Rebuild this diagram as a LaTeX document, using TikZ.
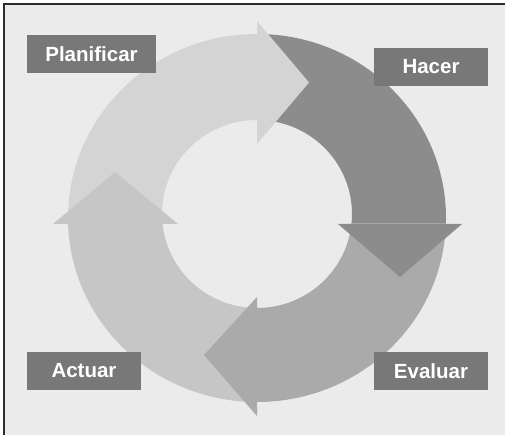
\documentclass[tikz,border=0pt]{standalone}
\usepackage{fontspec}
\usepackage{xcolor}
\usepackage{tikz}
\newfontfamily\labelfont{Liberation Sans}
\definecolor{pagefill}{RGB}{235,235,235}
\definecolor{frameline}{RGB}{45,45,45}
\definecolor{planfill}{RGB}{212,212,212}
\definecolor{hacerfill}{RGB}{140,140,140}
\definecolor{evalfill}{RGB}{170,170,170}
\definecolor{actfill}{RGB}{198,198,198}
\definecolor{labelfill}{RGB}{120,120,120}

\begin{document}
\begin{tikzpicture}[x=1pt, y=-1pt,
    label/.style={fill=labelfill, text=white, inner sep=0pt, minimum width=114pt, minimum height=38pt,
      font=\labelfont\bfseries\fontsize{20.5}{24}\selectfont},
    ring/.style={even odd rule}
  ]
    \useasboundingbox (0,0) rectangle (505,435);
    \fill[white] (0,0) rectangle (505,435);
    \fill[pagefill] (4,4) rectangle (505,435);
    \draw[frameline, line width=1.3pt] (505,4) -- (4,4) -- (4,435);
    % ring bodies, one quarter each
    \foreach \col/\xa/\ya/\xb/\yb in {planfill/0/0/257/224, hacerfill/257/0/505/224,
        evalfill/257/224/505/435, actfill/0/224/257/435} {
      \begin{scope}
        \clip (\xa,\ya) rectangle (\xb,\yb);
        \fill[\col, ring] (257,218) ellipse [x radius=189pt, y radius=184pt]
          (257,214) ellipse [x radius=95pt, y radius=94pt];
      \end{scope}
    }
    % arrow heads
    \fill[planfill] (257,21) -- (309,82.5) -- (257,144) -- cycle;
    \fill[hacerfill] (338,224) -- (400,277) -- (462,224) -- cycle;
    \fill[evalfill] (257,297) -- (204,355) -- (257,416) -- cycle;
    \fill[actfill] (53,224) -- (115,172) -- (178,224) -- cycle;
    % labels
    \node[label, minimum width=129pt] (plan) at (91.5,54) {Planificar};
    \node[label] (hacer) at (431,67) {Hacer};
    \node[label] (actuar) at (84,371) {Actuar};
    \node[label] (evaluar) at (431,371) {Evaluar};
  \end{tikzpicture}
\end{document}
